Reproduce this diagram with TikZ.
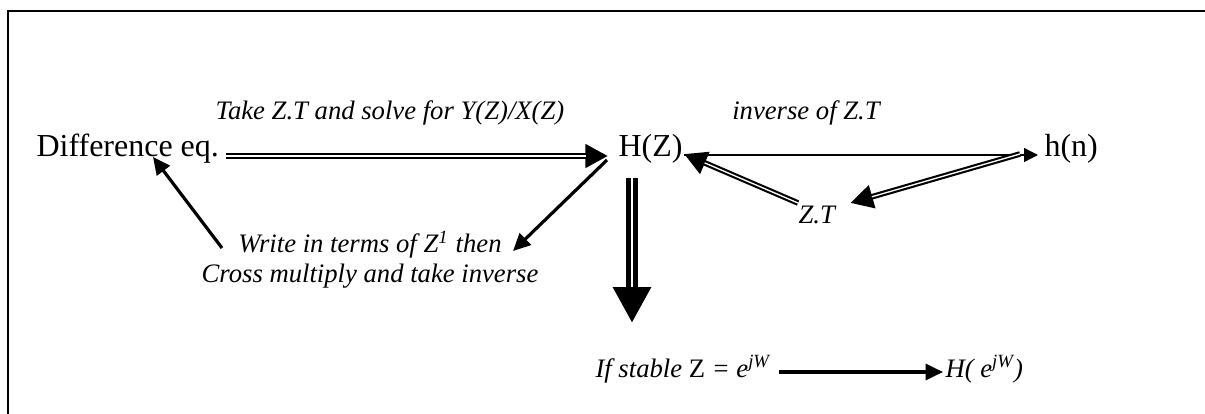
\documentclass[tikz,border=0pt]{standalone}
\usepackage{fontspec}
\setmainfont{Liberation Serif}[
    ItalicFont={Liberation Serif Italic}
]
\usetikzlibrary{
    arrows.meta,
    calc
}
\definecolor{ink}{RGB}{0,0,0}
\tikzset{
    line cap=butt,
    term/.style={
        inner sep=0pt,
        font=\fontsize{12}{14}\selectfont,
        text=ink
    },
    note/.style={
        inner sep=0pt,
        font=\fontsize{10}{10.9}\selectfont\itshape,
        text=ink
    },
    dblarrow/.style={
        draw=ink,
        line width=2.1pt,
        -{Triangle[length=8.5pt, width=8.5pt]},
        postaction={draw=white, line width=0.5pt, shorten >=8.4pt, -}
    },
    thinarrow/.style={
        draw=ink,
        line width=0.5pt,
        -{Triangle[length=5.2pt, width=5.2pt]}
    },
    steparrow/.style={
        draw=ink,
        line width=1.2pt,
        -{Triangle[length=6.5pt, width=6pt]}
    },
    bigarrow/.style={
        draw=ink,
        line width=4.5pt,
        -{Triangle[length=13.5pt, width=13.5pt]},
        postaction={draw=white, line width=0.75pt, shorten >=13.4pt, -}
    },
    frame/.style={
        draw=ink,
        line width=0.6pt
    }
}

\begin{document}
\begin{tikzpicture}[x=0.375pt, y=-0.375pt]
\useasboundingbox (0,0) rectangle (1205,414);

% Frame (right and bottom sides fall off the page)
\draw[frame] (8,414) -- (8,11) -- (1205,11);

% === Top row ===
\node[term, anchor=base west] (diff) at (36,156) {Difference eq.};
\node[term, anchor=base west] (hz) at (618,156) {H(Z)};
\node[term, anchor=base west] (hn) at (1044,156) {h(n)};

\node[note, anchor=base] (take) at (390,119) {Take Z.T and solve for Y(Z)/X(Z)};
\node[note, anchor=base] (inv) at (806,119) {inverse of Z.T};
\node[note, anchor=base west] (zt) at (798,223) {Z.T};

% === Lower part ===
\node[note, anchor=base, align=center] (write) at (370,282)
    {Write in terms of Z\textsuperscript{1} then\\Cross multiply and take inverse};
\node[note, anchor=base west] (stable) at (595,377)
    {If stable \textup{Z} = e\textsuperscript{jW}};
\node[note, anchor=base west] (hejw) at (945,377) {H( e\textsuperscript{jW})};

% Connectors
\draw[dblarrow] ($(diff.base east)+(7,0)$) -- ($(hz.base west)+(-10,0)$);
\draw[thinarrow] ($(hz.base east)+(1,-1)$) -- ($(hn.base west)+(-6,-1)$);
\draw[dblarrow] ($(hn.base west)+(-24,-2)$) -- ($(zt.base east)+(15,-20)$);
\draw[dblarrow] ($(zt.base west)+(0,-20)$) -- ($(hz.base east)+(1,-2)$);
\draw[steparrow] ($(hz.base west)+(-11,4)$) -- ($(write.base)+(143,-31)$);
\draw[steparrow] ($(write.base)+(-148,-34)$) -- ($(diff.base west)+(117,1)$);
\draw[bigarrow] ($(hz.base west)+(14,22)$) -- ($(stable.base west)+(37,-54)$);
\draw[steparrow] ($(stable.base east)+(8,-5)$) -- ($(hejw.base west)+(-2,-5)$);

\end{tikzpicture}
\end{document}
